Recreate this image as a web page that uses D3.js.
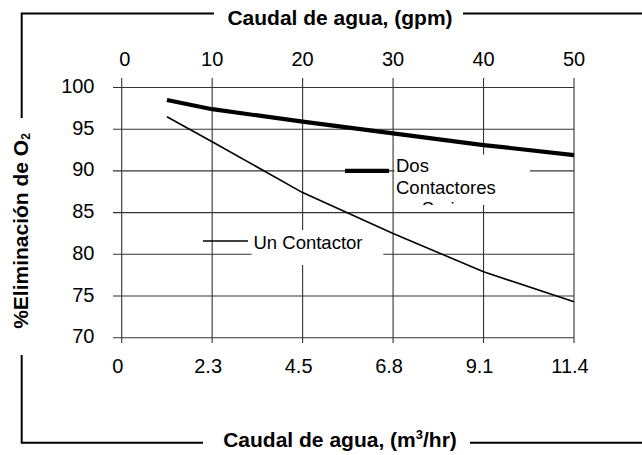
<!DOCTYPE html>
<html><head><meta charset="utf-8">
<script src="https://cdn.jsdelivr.net/npm/d3@7"></script>
<style>body{margin:0;background:#fff}svg{display:block}text{font-family:"Liberation Sans",Arial,sans-serif;fill:#000}</style>
</head><body><svg id="c" width="642" height="455"></svg>
<script>
const gpmTicks = [0, 10, 20, 30, 40, 50];
const gpmLabels = ["0", "10", "20", "30", "40", "50"];
const m3hrLabels = ["0", "2.3", "4.5", "6.8", "9.1", "11.4"];
const yTicks = [70, 75, 80, 85, 90, 95, 100];
const flowGpm = [5, 10, 20, 30, 40, 50];
const dosContactores = [98.5, 97.4, 95.9, 94.5, 93.1, 91.9];
const unContactor = [96.5, 93.5, 87.4, 82.5, 77.9, 74.3];

const svg = d3.select("#c");
const x = d3.scaleLinear().domain([0, 50]).range([121.7, 574]);
const y = d3.scaleLinear().domain([70, 100]).range([337.7, 87.5]);
const gridColor = "#333";

// gridlines
svg.append("g").selectAll("line").data(yTicks).join("line")
  .attr("x1", 113).attr("x2", x(50)).attr("y1", d => y(d)).attr("y2", d => y(d))
  .attr("stroke", gridColor).attr("stroke-width", 1.1);
svg.append("g").selectAll("line").data(gpmTicks).join("line")
  .attr("x1", d => x(d)).attr("x2", d => x(d)).attr("y1", 78).attr("y2", 343)
  .attr("stroke", gridColor).attr("stroke-width", 1.1);

// tick labels
svg.append("g").selectAll("text").data(yTicks).join("text")
  .attr("x", 94.5).attr("y", d => y(d) + 5.5).attr("text-anchor", "end")
  .attr("font-size", 20).text(d => d);
svg.append("g").selectAll("text").data(gpmTicks).join("text")
  .attr("x", (d, i) => x(d) + (i === 0 ? 3 : 0)).attr("y", 66).attr("text-anchor", "middle")
  .attr("font-size", 20).text((d, i) => gpmLabels[i]);
svg.append("g").selectAll("text").data(gpmTicks).join("text")
  .attr("x", d => x(d) - 4).attr("y", 373).attr("text-anchor", "middle")
  .attr("font-size", 20).text((d, i) => m3hrLabels[i]);

// data lines
const line = d3.line().x(d => x(d[0])).y(d => y(d[1]));
svg.append("path").datum(flowGpm.map((g, i) => [g, dosContactores[i]]))
  .attr("d", line).attr("fill", "none").attr("stroke", "#000").attr("stroke-width", 4.2);
svg.append("path").datum(flowGpm.map((g, i) => [g, unContactor[i]]))
  .attr("d", line).attr("fill", "none").attr("stroke", "#000").attr("stroke-width", 1.6);

// legend: Dos Contactores en Serie
svg.append("rect").attr("x", 394.5).attr("y", 154.5).attr("width", 135.5).attr("height", 50.5).attr("fill", "#fff");
svg.append("line").attr("x1", 345).attr("x2", 389).attr("y1", y(90)).attr("y2", y(90))
  .attr("stroke", "#000").attr("stroke-width", 4.2);
svg.append("defs").append("clipPath").attr("id", "lgclip").append("rect")
  .attr("x", 390).attr("y", 150).attr("width", 145).attr("height", 55);
const lg = svg.append("text").attr("font-size", 18.5).attr("clip-path", "url(#lgclip)");
lg.append("tspan").attr("x", 396).attr("y", 172).text("Dos");
lg.append("tspan").attr("x", 396).attr("y", 193.5).text("Contactores");
lg.append("tspan").attr("x", 396).attr("y", 215).text("en Serie");

// legend: Un Contactor
svg.append("rect").attr("x", 251.7).attr("y", 230).attr("width", 131.6).attr("height", 35).attr("fill", "#fff");
svg.append("line").attr("x1", 203).attr("x2", 248).attr("y1", 241).attr("y2", 241)
  .attr("stroke", "#000").attr("stroke-width", 1.6);
svg.append("text").attr("x", 253.5).attr("y", 248.5).attr("font-size", 18.5).text("Un Contactor");

// frame
const fr = svg.append("g").attr("stroke", "#000").attr("stroke-width", 2).attr("fill", "none");
fr.append("path").attr("d", "M214,13.5 H21.7 V118");
fr.append("path").attr("d", "M463,13.5 H642");
fr.append("path").attr("d", "M21.7,355 V442.7 H203");
fr.append("path").attr("d", "M470,442.7 H642");

// titles
svg.append("text").attr("x", 340).attr("y", 24.5).attr("text-anchor", "middle")
  .attr("font-size", 21).attr("font-weight", "bold").text("Caudal de agua, (gpm)");
const bt = svg.append("text").attr("x", 340).attr("y", 446.5).attr("text-anchor", "middle")
  .attr("font-size", 21).attr("font-weight", "bold");
bt.append("tspan").text("Caudal de agua, (m");
bt.append("tspan").attr("font-size", 13).attr("dy", -8).text("3");
bt.append("tspan").attr("dy", 8).text("/hr)");
const yt = svg.append("text").attr("transform", "translate(28,231) rotate(-90)")
  .attr("text-anchor", "middle").attr("font-size", 21).attr("font-weight", "bold");
yt.append("tspan").text("%Eliminación de O");
yt.append("tspan").attr("font-size", 12).attr("dy", 2).text("2");
</script></body></html>
